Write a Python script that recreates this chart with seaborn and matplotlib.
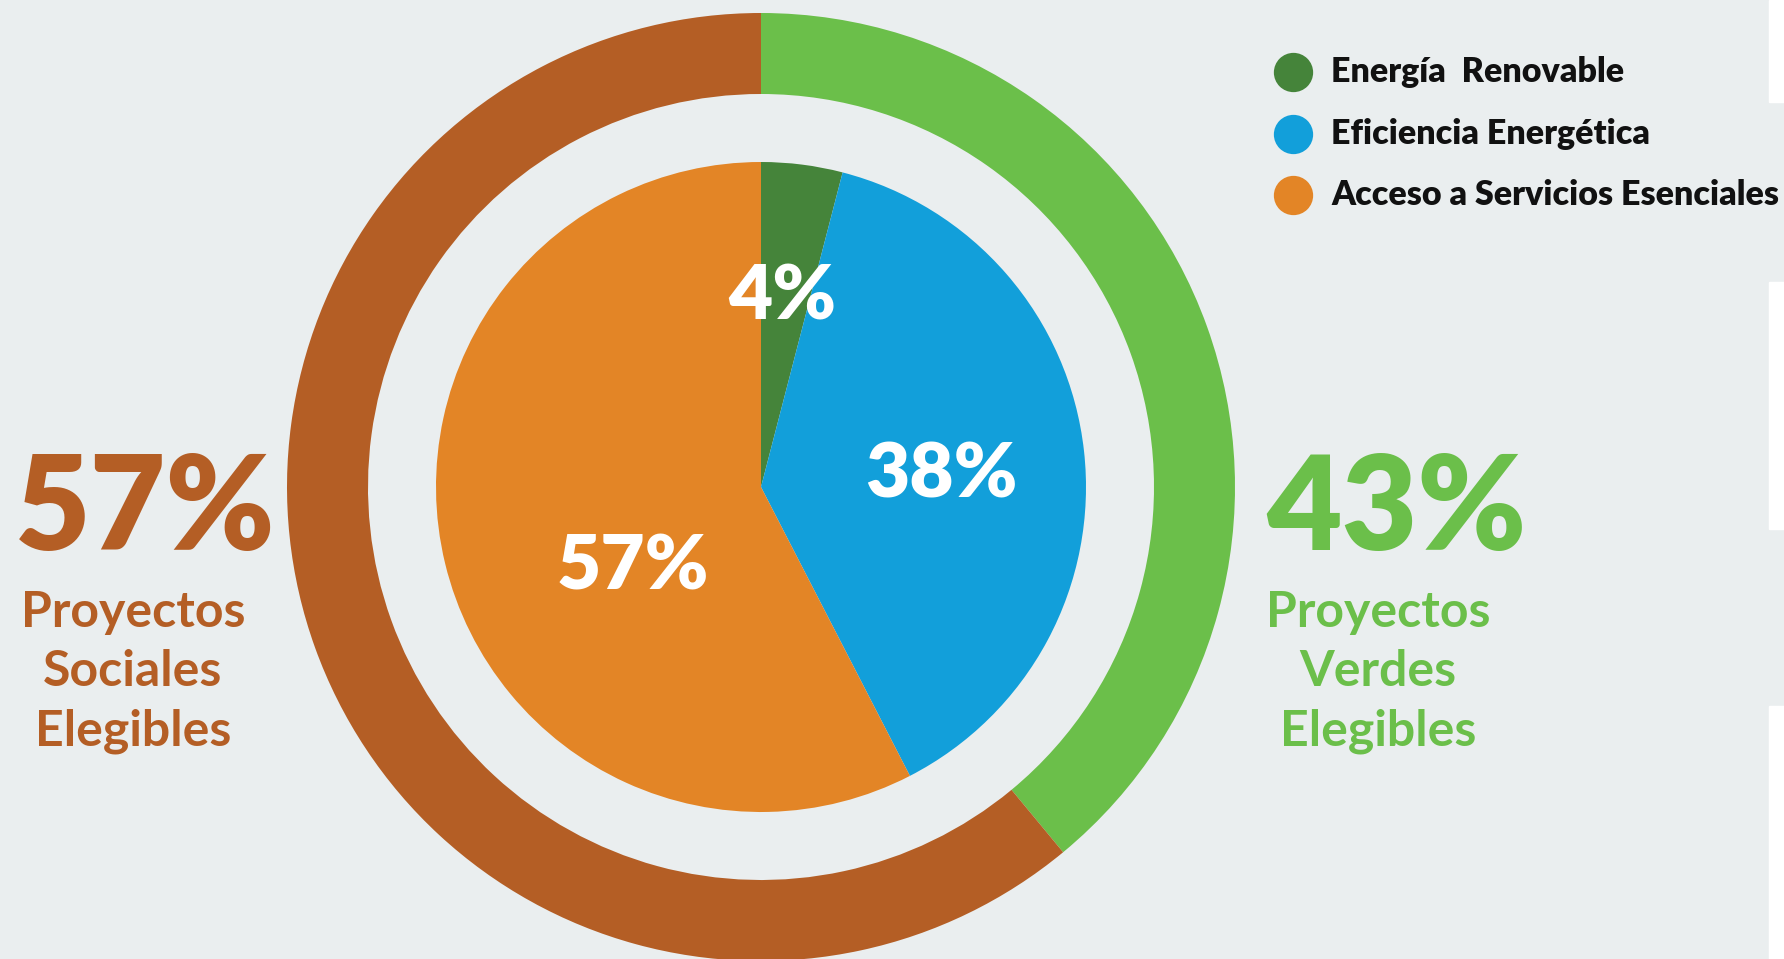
import seaborn as sns
import matplotlib.pyplot as plt
from matplotlib.patches import Rectangle

# Datos
grupos = ['Proyectos Verdes Elegibles', 'Proyectos Sociales Elegibles']
grupos_etiquetas = ['43%', '57%']
grupos_valores = [39, 61]  # proporción dibujada en el anillo de la imagen
categorias = ['Energía  Renovable', 'Eficiencia Energética', 'Acceso a Servicios Esenciales']
categorias_valores = [4, 38, 57]

# Colores
fondo = '#EAEEEF'
colores_grupos = ['#6BBF4A', '#B45E25']
colores_categorias = ['#45843A', '#129FDA', '#E38526']

sns.set_theme(style='white')
plt.rcParams['font.family'] = ['Lato', 'DejaVu Sans']

W, H = 1784, 959
fig = plt.figure(figsize=(W / 100, H / 100), dpi=100, facecolor=fondo)
ax = fig.add_axes([0, 0, 1, 1])
ax.set_facecolor(fondo)
ax.axis('off')

cx, cy = 761, H - 487

# Anillo exterior
ax.pie(grupos_valores, colors=colores_grupos, startangle=90, counterclock=False,
       radius=474, center=(cx, cy), wedgeprops=dict(width=81, linewidth=0))
# Pastel interior
ax.pie(categorias_valores, colors=colores_categorias, startangle=90, counterclock=False,
       radius=325, center=(cx, cy), wedgeprops=dict(linewidth=0))
ax.set_xlim(0, W)
ax.set_ylim(0, H)
ax.set_aspect('equal')

# Etiquetas interiores
etiquetas = [f'{v}%' for v in categorias_valores]
pos_etiquetas = [(782, H - 298), (941, H - 476), (633, H - 567)]
for txt, (x, y) in zip(etiquetas, pos_etiquetas):
    ax.text(x, y, txt, color='white', fontsize=55, fontweight='heavy',
            ha='center', va='center')

# Totales a los lados
ax.text(145, H - 512, grupos_etiquetas[1], color=colores_grupos[1], fontsize=94,
        fontweight='heavy', ha='center', va='center')
ax.text(133, H - 672, 'Proyectos\nSociales\nElegibles', color=colores_grupos[1], fontsize=36,
        fontweight='bold', ha='center', va='center', linespacing=1.38)
ax.text(1396, H - 512, grupos_etiquetas[0], color=colores_grupos[0], fontsize=94,
        fontweight='heavy', ha='center', va='center')
ax.text(1378, H - 672, 'Proyectos\nVerdes\nElegibles', color=colores_grupos[0], fontsize=36,
        fontweight='bold', ha='center', va='center', linespacing=1.38)

# Leyenda
for i, (nombre, col) in enumerate(zip(categorias, colores_categorias)):
    y = H - (72 + 61.5 * i)
    ax.scatter([1293], [y], s=800, color=col, linewidths=0)
    ax.text(1331, y, nombre, color='#111111', fontsize=24.5, fontweight='heavy',
            ha='left', va='center')

# Franjas blancas del borde derecho
for y0, y1 in [(0, 102), (282, 529), (706, 959)]:
    fig.patches.append(Rectangle((1769 / W, 1 - y1 / H), 15 / W, (y1 - y0) / H,
                                 transform=fig.transFigure, color='white', zorder=-1))

fig.savefig('out.png', dpi=100, facecolor=fondo)
